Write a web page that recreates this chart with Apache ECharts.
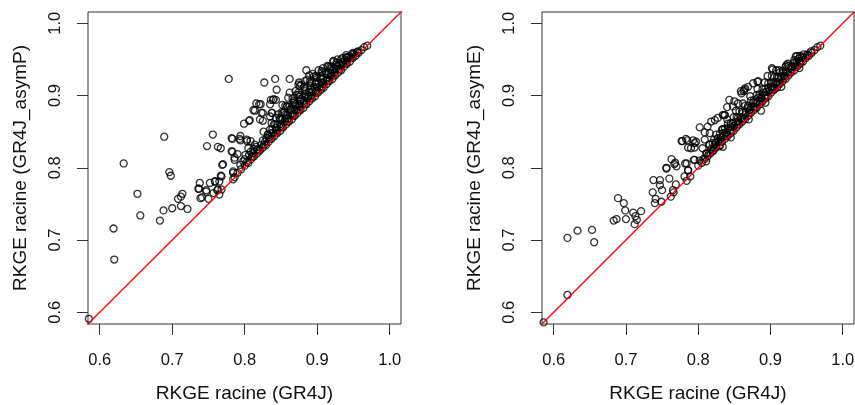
<!DOCTYPE html>
<html><head><meta charset="utf-8">
<script src="https://cdn.jsdelivr.net/npm/echarts@6/dist/echarts.min.js"></script>
<style>html,body{margin:0;padding:0;background:#fff}#c{width:855px;height:405px}</style>
</head><body><div id="c"></div>
<script>
const tickValues = [0.6, 0.7, 0.8, 0.9, 1.0];
const axisRange = [0.5838, 1.0156];
const xTitle = 'RKGE racine (GR4J)';
const yTitleLeft = 'RKGE racine (GR4J_asymP)';
const yTitleRight = 'RKGE racine (GR4J_asymE)';
const identityLine = [[0.5, 0.5], [1.1, 1.1]];

// Left panel: [GR4J, GR4J_asymP]
const asymPScattered = [
[0.585,0.591],[0.619,0.716],[0.620,0.673],[0.633,0.806],[0.652,0.764],[0.656,0.734],[0.683,0.727],[0.688,0.741],
[0.689,0.843],[0.696,0.794],[0.698,0.789],[0.700,0.744],[0.708,0.757],[0.712,0.760],[0.714,0.764],[0.712,0.747],
[0.721,0.743],[0.738,0.779],[0.737,0.771],[0.741,0.759],[0.739,0.758],[0.747,0.767],[0.750,0.757],[0.748,0.830],
[0.752,0.779],[0.756,0.846],[0.759,0.781],[0.763,0.829],[0.767,0.827],[0.770,0.805],[0.767,0.789],[0.765,0.781],
[0.762,0.769],[0.765,0.763],[0.768,0.770],[0.778,0.923],[0.782,0.841],[0.783,0.822],[0.786,0.811],[0.784,0.793],
[0.786,0.787],[0.790,0.819],[0.793,0.840],[0.794,0.844],[0.794,0.804],[0.799,0.861],[0.806,0.865],[0.803,0.839],
[0.812,0.880],[0.816,0.889],[0.820,0.888],[0.823,0.876],[0.825,0.865],[0.827,0.918],[0.842,0.923],[0.844,0.908],
[0.836,0.894],[0.840,0.895],[0.843,0.894],[0.838,0.876],[0.835,0.871],[0.862,0.923],[0.885,0.935],[0.908,0.938],
[0.928,0.950],[0.940,0.953],[0.969,0.969],
[0.822,0.888],[0.835,0.888],[0.814,0.879],[0.825,0.876],[0.807,0.866],[0.821,0.867],[0.837,0.876],[0.837,0.862],
[0.783,0.840],[0.794,0.838],[0.782,0.823],[0.786,0.814],[0.769,0.804],[0.803,0.837],[0.808,0.837],[0.814,0.832],
[0.805,0.827],[0.808,0.822],[0.801,0.818],[0.798,0.809],[0.784,0.795],[0.768,0.788],[0.759,0.781],[0.736,0.771],
[0.747,0.769],[0.757,0.765],[0.763,0.770],[0.784,0.784],[0.826,0.850],[0.832,0.846],[0.849,0.867],[0.853,0.876],
[0.858,0.885],[0.867,0.890],[0.872,0.901],[0.876,0.913],[0.883,0.920],
[0.839,0.894],[0.874,0.915],[0.895,0.926],[0.918,0.940],[0.950,0.959],
[0.800,0.812],[0.806,0.818],[0.812,0.826],[0.816,0.829],[0.810,0.815]
];
const asymPBand = [
[0.790,0.793],[0.795,0.798],[0.800,0.803],[0.805,0.807],[0.809,0.812],[0.813,0.816],[0.817,0.820],[0.821,0.824],
[0.825,0.828],[0.829,0.831],[0.833,0.836],[0.837,0.840],[0.841,0.844],[0.845,0.848],[0.849,0.851],[0.853,0.856],
[0.857,0.860],[0.861,0.864],[0.865,0.867],[0.869,0.872],[0.873,0.876],[0.877,0.880],[0.881,0.883],[0.885,0.888],
[0.889,0.892],[0.893,0.896],[0.897,0.899],[0.901,0.904],[0.905,0.908],[0.909,0.911],[0.913,0.916],[0.917,0.920],
[0.921,0.923],[0.925,0.928],[0.929,0.932],[0.933,0.935],[0.937,0.940],[0.941,0.944],[0.945,0.947],[0.949,0.952],
[0.953,0.955],[0.957,0.959],[0.961,0.963],[0.965,0.967],
[0.803,0.808],[0.811,0.816],[0.819,0.824],[0.827,0.832],[0.835,0.840],[0.843,0.848],[0.851,0.856],[0.859,0.864],
[0.867,0.872],[0.875,0.880],[0.883,0.888],[0.891,0.896],[0.899,0.904],[0.907,0.912],[0.915,0.920],[0.923,0.928],
[0.931,0.936],[0.939,0.944],[0.947,0.952],[0.955,0.960],
[0.812,0.820],[0.818,0.826],[0.823,0.832],[0.828,0.836],[0.834,0.842],[0.839,0.848],[0.844,0.852],[0.850,0.858],
[0.855,0.864],[0.860,0.868],[0.866,0.874],[0.871,0.880],[0.876,0.884],[0.882,0.890],[0.887,0.896],[0.892,0.900],
[0.898,0.906],[0.903,0.911],[0.908,0.916],[0.914,0.922],[0.919,0.927],[0.924,0.932],[0.930,0.937],[0.935,0.942],
[0.940,0.947],[0.946,0.952],[0.951,0.957],[0.956,0.961],
[0.830,0.841],[0.837,0.848],[0.843,0.855],[0.849,0.861],[0.856,0.868],[0.863,0.874],[0.869,0.881],[0.875,0.887],
[0.881,0.893],[0.888,0.899],[0.894,0.906],[0.900,0.912],[0.906,0.918],[0.913,0.924],[0.919,0.930],[0.926,0.937],
[0.932,0.943],[0.938,0.949],[0.944,0.954],
[0.825,0.838],[0.832,0.846],[0.838,0.853],[0.845,0.860],[0.851,0.867],[0.858,0.873],[0.864,0.880],[0.870,0.886],
[0.877,0.892],[0.883,0.898],[0.889,0.905],[0.896,0.911],[0.902,0.917],[0.908,0.923],[0.915,0.929],[0.921,0.935],
[0.928,0.941],[0.934,0.946],[0.941,0.952],[0.948,0.958],
[0.835,0.853],[0.842,0.860],[0.849,0.867],[0.856,0.874],[0.863,0.881],[0.870,0.888],[0.877,0.895],[0.884,0.902],
[0.891,0.909],[0.898,0.916],[0.905,0.923],[0.912,0.930],[0.919,0.937],[0.926,0.943],[0.933,0.950],[0.940,0.956],
[0.840,0.860],[0.848,0.869],[0.855,0.877],[0.862,0.885],[0.869,0.891],[0.876,0.898],[0.884,0.906],[0.891,0.913],
[0.898,0.919],[0.905,0.927],[0.912,0.933],[0.920,0.940],[0.927,0.946],[0.935,0.952],
[0.843,0.869],[0.851,0.877],[0.859,0.885],[0.867,0.893],[0.875,0.901],[0.883,0.909],[0.891,0.917],[0.899,0.925],
[0.907,0.932],[0.915,0.940],[0.923,0.947],
[0.846,0.874],[0.856,0.886],[0.866,0.896],[0.874,0.904],[0.882,0.912],[0.890,0.920],[0.898,0.927],[0.906,0.934],
[0.914,0.941],[0.922,0.948],
[0.852,0.887],[0.860,0.897],[0.870,0.906],[0.878,0.915],[0.886,0.922],[0.894,0.930],[0.902,0.935],[0.862,0.904],
[0.875,0.918],[0.889,0.928]
];

// Right panel: [GR4J, GR4J_asymE]
const asymEScattered = [
[0.586,0.586],[0.619,0.624],[0.619,0.703],[0.633,0.713],[0.653,0.714],[0.656,0.697],[0.683,0.727],[0.687,0.729],
[0.689,0.758],[0.697,0.751],[0.699,0.741],[0.700,0.729],[0.710,0.738],[0.713,0.733],[0.712,0.722],[0.715,0.728],
[0.721,0.740],[0.737,0.766],[0.738,0.783],[0.741,0.757],[0.740,0.751],[0.747,0.783],[0.747,0.776],[0.750,0.769],
[0.749,0.753],[0.756,0.799],[0.760,0.785],[0.763,0.812],[0.762,0.760],[0.765,0.769],[0.768,0.807],[0.770,0.802],
[0.769,0.777],[0.766,0.766],[0.777,0.837],[0.783,0.840],[0.782,0.806],[0.786,0.828],[0.786,0.796],[0.784,0.782],
[0.789,0.788],[0.793,0.838],[0.795,0.828],[0.794,0.811],[0.797,0.836],[0.802,0.856],[0.806,0.827],[0.809,0.849],
[0.811,0.809],[0.813,0.857],[0.816,0.832],[0.818,0.864],[0.820,0.823],[0.823,0.866],[0.827,0.869],[0.834,0.829],
[0.836,0.873],[0.840,0.884],[0.843,0.894],[0.848,0.885],[0.855,0.889],[0.859,0.906],[0.865,0.910],[0.876,0.917],
[0.882,0.919],[0.887,0.879],[0.896,0.927],[0.902,0.938],[0.908,0.935],[0.922,0.942],[0.935,0.954],[0.941,0.955],
[0.969,0.969],
[0.767,0.805],[0.756,0.800],[0.784,0.806],[0.786,0.797],[0.795,0.811],[0.778,0.837],[0.785,0.838],[0.790,0.827],
[0.795,0.834],[0.809,0.839],[0.816,0.848],[0.837,0.873],[0.850,0.892],[0.860,0.903],[0.863,0.906],[0.830,0.830],
[0.834,0.853],[0.811,0.820],[0.802,0.810],[0.781,0.788],
[0.937,0.955],[0.924,0.944],[0.903,0.936],[0.883,0.920],[0.864,0.908],[0.869,0.912],[0.834,0.873]
];
const asymEBand = [
[0.800,0.803],[0.805,0.807],[0.809,0.812],[0.813,0.816],[0.817,0.820],[0.821,0.824],[0.825,0.828],[0.829,0.831],
[0.833,0.836],[0.837,0.840],[0.841,0.844],[0.845,0.848],[0.849,0.851],[0.853,0.856],[0.857,0.860],[0.861,0.864],
[0.865,0.867],[0.869,0.872],[0.873,0.876],[0.877,0.880],[0.881,0.883],[0.885,0.888],[0.889,0.892],[0.893,0.896],
[0.897,0.899],[0.901,0.904],[0.905,0.908],[0.909,0.911],[0.913,0.916],[0.917,0.920],[0.921,0.923],[0.925,0.928],
[0.929,0.932],[0.933,0.935],[0.937,0.940],[0.941,0.944],[0.945,0.947],[0.949,0.952],[0.953,0.955],[0.957,0.959],
[0.961,0.963],[0.965,0.967],
[0.845,0.842],[0.870,0.867],[0.893,0.890],[0.915,0.912],[0.940,0.938],
[0.807,0.812],[0.815,0.820],[0.823,0.828],[0.831,0.836],[0.839,0.844],[0.847,0.852],[0.855,0.860],[0.863,0.868],
[0.871,0.876],[0.879,0.884],[0.887,0.892],[0.895,0.900],[0.903,0.908],[0.911,0.916],[0.919,0.924],[0.927,0.932],
[0.935,0.940],[0.943,0.948],[0.951,0.956],
[0.812,0.820],[0.818,0.826],[0.823,0.832],[0.828,0.836],[0.834,0.842],[0.839,0.848],[0.844,0.852],[0.850,0.858],
[0.855,0.864],[0.860,0.868],[0.866,0.874],[0.871,0.880],[0.876,0.884],[0.882,0.890],[0.887,0.896],[0.892,0.900],
[0.898,0.906],[0.903,0.911],[0.908,0.916],[0.914,0.922],[0.919,0.927],[0.924,0.932],[0.930,0.937],[0.935,0.942],
[0.940,0.947],[0.946,0.952],[0.951,0.957],[0.956,0.961],
[0.824,0.835],[0.831,0.842],[0.838,0.849],[0.845,0.856],[0.852,0.863],[0.859,0.870],[0.866,0.877],[0.873,0.884],
[0.880,0.891],[0.887,0.898],[0.894,0.905],[0.901,0.912],[0.908,0.919],[0.915,0.926],[0.922,0.933],[0.929,0.940],
[0.936,0.947],[0.943,0.953],
[0.820,0.834],[0.827,0.841],[0.834,0.848],[0.841,0.855],[0.848,0.862],[0.855,0.869],[0.862,0.876],[0.869,0.883],
[0.876,0.890],[0.883,0.897],[0.890,0.904],[0.897,0.911],[0.904,0.918],[0.911,0.925],[0.918,0.932],[0.925,0.938],
[0.932,0.945],[0.939,0.951],[0.946,0.957],
[0.815,0.832],[0.822,0.839],[0.830,0.847],[0.837,0.854],[0.845,0.862],[0.853,0.870],[0.861,0.878],[0.869,0.886],
[0.877,0.894],[0.885,0.902],[0.893,0.910],[0.901,0.918],[0.909,0.926],[0.917,0.934],[0.925,0.941],[0.933,0.949],
[0.825,0.846],[0.833,0.853],[0.841,0.861],[0.849,0.870],[0.857,0.878],[0.865,0.886],[0.873,0.893],[0.881,0.901],
[0.889,0.909],[0.897,0.917],[0.905,0.925],[0.913,0.932],[0.921,0.940],
[0.840,0.867],[0.852,0.879],[0.862,0.889],[0.872,0.899],[0.882,0.909],[0.892,0.918],[0.902,0.927],[0.912,0.935]
];

const FONT = '"Liberation Sans", Arial, Helvetica, sans-serif';
const TXT = '#111';
const LINE = '#333';

function axis(gridIndex, name, nameGap, isY) {
  return {
    type: 'value', gridIndex: gridIndex,
    min: axisRange[0], max: axisRange[1],
    name: name, nameLocation: 'middle', nameGap: nameGap, nameMoveOverlap: false,
    nameTextStyle: { fontSize: 19, color: TXT, fontFamily: FONT, verticalAlign: 'middle', lineHeight: 19 },
    axisLine: { show: false },
    axisTick: { show: true, inside: false, length: 11, lineStyle: { color: LINE, width: 1 }, customValues: tickValues },
    axisLabel: {
      customValues: tickValues, formatter: v => v.toFixed(1),
      fontSize: 16.5, lineHeight: 17, color: TXT, fontFamily: FONT,
      verticalAlign: 'middle', align: 'center',
      margin: isY ? 33 : 36, rotate: isY ? 90 : 0,
      showMinLabel: true, showMaxLabel: true
    },
    splitLine: { show: false }
  };
}

function scatter(idx, data) {
  return {
    type: 'scatter', xAxisIndex: idx, yAxisIndex: idx, data: data,
    symbol: 'circle', symbolSize: 7, clip: true, z: 2,
    itemStyle: { color: 'rgba(0,0,0,0)', borderColor: '#000', borderWidth: 1.3 },
    emphasis: { disabled: true }
  };
}
function refLine(idx) {
  return {
    type: 'line', xAxisIndex: idx, yAxisIndex: idx, data: identityLine,
    symbol: 'none', clip: true, z: 3, silent: true,
    lineStyle: { color: '#ff0000', width: 1.3 }
  };
}

const gridBase = { top: 12, height: 312, show: true, borderColor: LINE, borderWidth: 1,
  backgroundColor: 'rgba(0,0,0,0)', containLabel: false, outerBoundsMode: 'none' };

const chart = echarts.init(document.getElementById('c'), null, { renderer: 'canvas' });
chart.setOption({
  animation: false,
  backgroundColor: '#fff',
  grid: [
    Object.assign({ left: 88, width: 313 }, gridBase),
    Object.assign({ left: 542, width: 312 }, gridBase)
  ],
  xAxis: [axis(0, xTitle, 70, false), axis(1, xTitle, 70, false)],
  yAxis: [axis(0, yTitleLeft, 67, true), axis(1, yTitleRight, 67, true)],
  series: [
    scatter(0, asymPScattered.concat(asymPBand)),
    refLine(0),
    scatter(1, asymEScattered.concat(asymEBand)),
    refLine(1)
  ]
});
</script></body></html>
